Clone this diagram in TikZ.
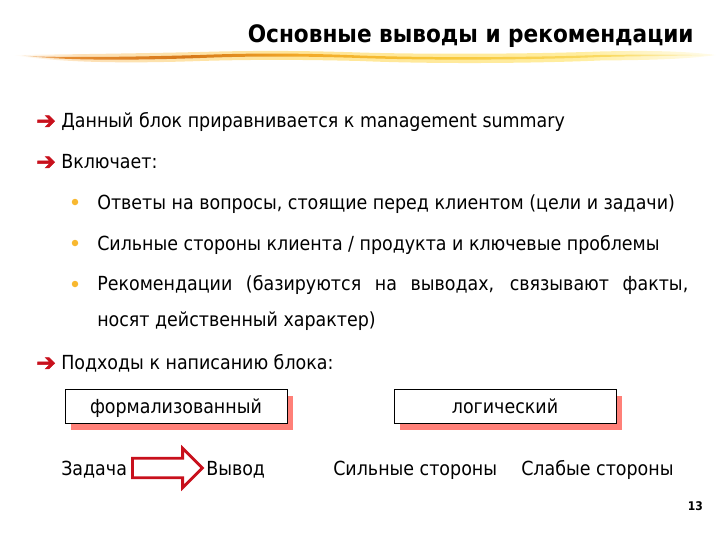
\documentclass[tikz,border=0pt]{standalone}
\usepackage{fontspec}
\setmainfont{DejaVu Sans Condensed}
\newfontfamily\symfont[FakeBold=2.5]{DejaVu Sans}
\usepackage{xcolor}
\usetikzlibrary{shapes.arrows}
\definecolor{arrowred}{HTML}{C8101C}
\definecolor{shadowred}{HTML}{FF8078}
\definecolor{bulletorange}{HTML}{F8B830}
\pgfdeclarehorizontalshading{swooshcore}{100bp}{rgb(0bp)=(1,1,1); rgb(25bp)=(0.98,0.90,0.80); rgb(28bp)=(0.90,0.55,0.20); rgb(37bp)=(0.84,0.47,0.10); rgb(45bp)=(0.95,0.66,0.15); rgb(55bp)=(0.97,0.78,0.22); rgb(68bp)=(0.98,0.86,0.40); rgb(75bp)=(1,0.97,0.85); rgb(100bp)=(1,1,1)}
\pgfdeclarehorizontalshading{swooshhalo}{100bp}{rgb(0bp)=(1,1,1); rgb(25bp)=(1,1,1); rgb(30bp)=(0.99,0.88,0.72); rgb(45bp)=(1,0.90,0.60); rgb(65bp)=(1,0.93,0.62); rgb(75bp)=(1,0.99,0.93); rgb(100bp)=(1,1,1)}
\tikzset{
  txt/.style={anchor=base west, inner sep=0pt, font=\fontsize{13.8}{16}\selectfont},
  pointer/.style={anchor=base west, inner sep=0pt, text=arrowred, font=\symfont\fontsize{16.5}{18}\selectfont},
  dot/.style={circle, fill=bulletorange, inner sep=0pt, minimum size=6.5*0.025cm},
  approach/.style={draw=black, fill=white, line width=.7pt, inner sep=0pt, minimum width=222*0.025cm, minimum height=33.5*0.025cm, text height=12pt, text depth=1.5pt, font=\fontsize{13.8}{16}\selectfont},
  blockarrow/.style={single arrow, draw=arrowred, fill=white, line width=2pt, inner xsep=0pt, inner ysep=.21cm, minimum width=38*0.025cm, minimum height=70*0.025cm, single arrow tip angle=90}
}
\begin{document}
\begin{tikzpicture}[x=0.025cm,y=-0.025cm]
\useasboundingbox (0,0) rectangle (720,540);

% swoosh under the title
\shade[shading=swooshhalo] (12,55) .. controls (60,54.5) and (130,53.5) .. (200,52) .. controls (250,50.5) and (300,50.5) .. (360,52.5) .. controls (430,54.5) and (530,54) .. (600,51.5) .. controls (640,50.5) and (680,50.5) .. (716,55) .. controls (680,60) and (640,60) .. (600,60.5) .. controls (530,63.5) and (430,64) .. (360,61) .. controls (300,59.5) and (250,59.5) .. (200,61) .. controls (130,63.5) and (60,63) .. (12,55) -- cycle;
\shade[shading=swooshcore] (22,55.5) .. controls (60,58) and (130,57) .. (200,55) .. controls (250,53) and (300,53) .. (360,55.5) .. controls (430,58) and (530,57.5) .. (600,55) .. controls (640,54.5) and (680,54.5) .. (712,55) .. controls (680,56) and (640,56) .. (600,57) .. controls (530,60) and (430,60.5) .. (360,58) .. controls (300,56) and (250,56) .. (200,58) .. controls (130,60.5) and (60,60.5) .. (22,55.5) -- cycle;

\node[anchor=base east, inner sep=0pt, font=\bfseries\fontsize{17.1}{20}\selectfont] (title) at (694,42) {Основные выводы и рекомендации};

\node[pointer] (p1) at (36,128.5) {➔};
\node[txt] (l1) at (61,127) {Данный блок приравнивается к management summary};
\node[pointer] (p2) at (36,169.5) {➔};
\node[txt] (l2) at (61,168) {Включает:};

\node[dot] (b1) at (75,202) {};
\node[txt] (l3) at (97,209) {Ответы на вопросы, стоящие перед клиентом (цели и задачи)};
\node[dot] (b2) at (75,243) {};
\node[txt] (l4) at (97,250) {Сильные стороны клиента / продукта и ключевые проблемы};
\node[dot] (b3) at (75,284) {};
\node[txt] (l5) at (97,290) {\makebox[14.775cm][s]{Рекомендации (базируются на выводах, связывают факты,}};
\node[txt] (l6) at (97,326) {носят действенный характер)};

\node[pointer] (p3) at (36,370.5) {➔};
\node[txt] (l7) at (61,369) {Подходы к написанию блока:};

\fill[shadowred] (71,396) rectangle (293,430);
\node[approach] (formal) at (176,406.5) {формализованный};
\fill[shadowred] (400,396) rectangle (622,430);
\node[approach] (logic) at (505,406.5) {логический};

\node[txt] (task) at (61,475) {Задача};
\node[blockarrow] (taskarrow) at (162.5,468) {};
\node[txt] (result) at (206,475) {Вывод};
\node[txt] (strong) at (333,475) {Сильные стороны};
\node[txt] (weak) at (521,475) {Слабые стороны};

\node[anchor=base east, inner sep=0pt, font=\bfseries\fontsize{8.5}{10}\selectfont] (page) at (703,510) {13};
\end{tikzpicture}
\end{document}
